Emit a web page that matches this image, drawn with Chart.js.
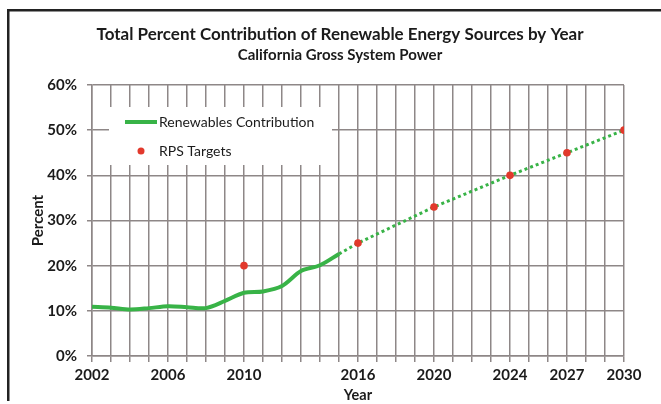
<!DOCTYPE html>
<html>
<head>
<meta charset="utf-8">
<title>Renewable Energy Contribution</title>
<script src="https://cdn.jsdelivr.net/npm/chart.js@4.4.1/dist/chart.umd.min.js"></script>
<style>
  html, body { margin: 0; padding: 0; background: #fff; }
  #wrap { width: 661px; height: 404px; }
</style>
</head>
<body>
<div id="wrap"><canvas id="chart" width="661" height="404"></canvas></div>
<script>
/* ==========================
   DADOS
========================== */
const years = [2002, 2003, 2004, 2005, 2006, 2007, 2008, 2009, 2010, 2011, 2012, 2013, 2014, 2015];
const renewables = [10.9, 10.7, 10.3, 10.6, 11.0, 10.8, 10.6, 12.2, 14.0, 14.3, 15.5, 18.8, 20.1, 22.6];

const trendYears = [2015, 2016, 2020, 2024, 2027, 2030];
const trendValues = [22.6, 25, 33, 40, 45, 50];

const targetYears = [2010, 2016, 2020, 2024, 2027, 2030];
const targetValues = [20, 25, 33, 40, 45, 50];

const yearLabels = [2002, 2006, 2010, 2016, 2020, 2024, 2027, 2030];
const percentTicks = [0, 10, 20, 30, 40, 50, 60];

const titleText = "Total Percent Contribution of Renewable Energy Sources by Year";
const subtitleText = "California Gross System Power";

/* ==========================
   ESTILO
========================== */
const FONT = "Lato, 'Open Sans', sans-serif";
const GREEN = "#38b347";
const RED = "#e2392c";
const GRID = "#8e8787";
const INK = "#1b1b1b";

const toPoints = (xs, ys) => xs.map((x, i) => ({ x, y: ys[i] }));

/* ==========================
   PLUGINS (moldura, título, legenda)
========================== */
const framePlugin = {
    id: "frame",
    beforeDraw(chart) {
        const { ctx, width, height } = chart;
        ctx.save();
        ctx.fillStyle = "#fff";
        ctx.fillRect(0, 0, width, height);
        ctx.restore();
    },
    afterDraw(chart) {
        const { ctx, width } = chart;
        ctx.save();
        ctx.fillStyle = "#222";
        ctx.fillRect(7, 9, width - 7, 2.5);
        ctx.fillRect(7, 9, 2.5, 392);

        // título + subtítulo
        ctx.fillStyle = INK;
        ctx.textAlign = "center";
        ctx.textBaseline = "middle";
        ctx.font = `bold 17px ${FONT}`;
        ctx.fillText(titleText, 340, 35);
        ctx.font = `bold 15px ${FONT}`;
        ctx.fillText(subtitleText, 340, 55);
        ctx.restore();
    }
};

const legendPlugin = {
    id: "boxLegend",
    beforeDatasetsDraw(chart) {
        const { ctx, chartArea } = chart;
        const x0 = chartArea.left + 17;
        const y0 = chartArea.top + 22;
        const line = chart.data.datasets[0];
        const dots = chart.data.datasets[2];

        ctx.save();
        ctx.fillStyle = "#fff";
        ctx.fillRect(x0, y0, 223, 58);

        ctx.strokeStyle = line.borderColor;
        ctx.lineWidth = 4;
        ctx.beginPath();
        ctx.moveTo(x0 + 16, y0 + 15);
        ctx.lineTo(x0 + 48, y0 + 15);
        ctx.stroke();

        ctx.fillStyle = dots.pointBackgroundColor;
        ctx.beginPath();
        ctx.arc(x0 + 32, y0 + 44, 3.5, 0, Math.PI * 2);
        ctx.fill();

        ctx.fillStyle = INK;
        ctx.font = `14px ${FONT}`;
        ctx.textBaseline = "middle";
        ctx.textAlign = "left";
        ctx.fillText(line.label, x0 + 50, y0 + 15);
        ctx.fillText(dots.label, x0 + 50, y0 + 44);
        ctx.restore();
    }
};

/* ==========================
   CHART
========================== */
new Chart(document.getElementById("chart"), {
    type: "line",
    data: {
        datasets: [
            {
                label: "Renewables Contribution",
                data: toPoints(years, renewables),
                borderColor: GREEN,
                borderWidth: 4,
                pointRadius: 0,
                tension: 0.3,
                order: 2
            },
            {
                label: "Projection",
                data: toPoints(trendYears, trendValues),
                borderColor: GREEN,
                borderWidth: 3,
                borderDash: [3, 3],
                pointRadius: 0,
                tension: 0,
                order: 1
            },
            {
                label: "RPS Targets",
                data: toPoints(targetYears, targetValues),
                showLine: false,
                pointRadius: 3.8,
                pointBackgroundColor: RED,
                pointBorderWidth: 0,
                order: 0
            }
        ]
    },
    options: {
        responsive: false,
        animation: false,
        layout: {
            autoPadding: false,
            padding: { top: 85, left: 0, right: 37, bottom: 0 }
        },
        plugins: {
            legend: { display: false },
            tooltip: { enabled: false },
            title: { display: false }
        },
        scales: {
            x: {
                type: "linear",
                min: 2002,
                max: 2030,
                afterFit: (scale) => { scale.height = 48; },
                afterBuildTicks: (scale) => {
                    const t = [];
                    for (let y = 2002; y <= 2030; y++) t.push({ value: y });
                    scale.ticks = t;
                },
                ticks: {
                    autoSkip: false,
                    maxRotation: 0,
                    minRotation: 0,
                    padding: 4,
                    color: INK,
                    font: { family: FONT, size: 15, weight: "bold" },
                    callback: (v) => yearLabels.includes(v) ? String(v) : ""
                },
                grid: { color: GRID, lineWidth: 1.5, tickLength: 6 },
                border: { color: GRID, width: 1.5 },
                title: {
                    display: true,
                    text: "Year",
                    color: INK,
                    font: { family: FONT, size: 14.5, weight: "bold" },
                    padding: { top: 0, bottom: 0 }
                }
            },
            y: {
                min: 0,
                max: 60,
                afterFit: (scale) => { scale.width = 92; },
                afterBuildTicks: (scale) => {
                    scale.ticks = percentTicks.map(v => ({ value: v }));
                },
                ticks: {
                    padding: 10,
                    color: INK,
                    font: { family: FONT, size: 15, weight: "bold" },
                    callback: (v) => v + "%"
                },
                grid: { color: GRID, lineWidth: 1.5, tickLength: 5 },
                border: { color: GRID, width: 1.5 },
                title: {
                    display: true,
                    text: "Percent",
                    color: INK,
                    font: { family: FONT, size: 15, weight: "bold" },
                    padding: { top: 29, bottom: 0 }
                }
            }
        }
    },
    plugins: [framePlugin, legendPlugin]
});
</script>
</body>
</html>
